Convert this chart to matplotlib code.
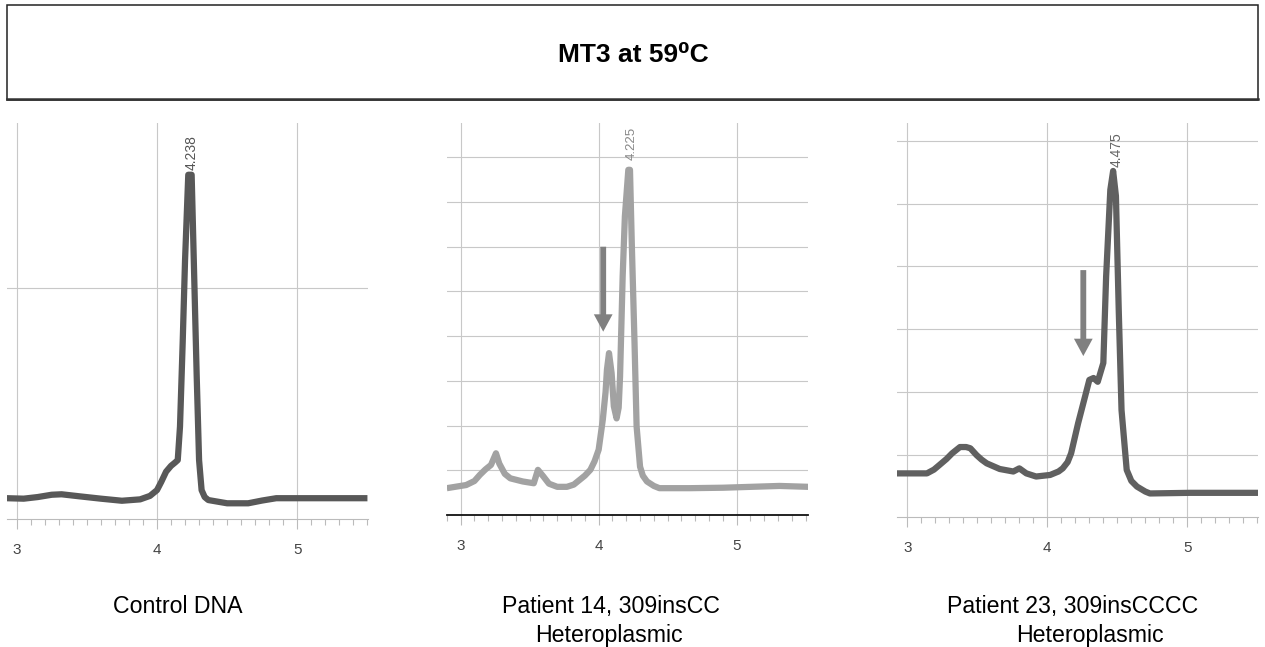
import numpy as np
import matplotlib
matplotlib.use("Agg")
import matplotlib.pyplot as plt
from matplotlib.patches import Rectangle
from matplotlib.lines import Line2D

plt.rcParams['font.family'] = ['Liberation Sans', 'DejaVu Sans']

# --- data ---
title = 'MT3 at 59⁰C'
tick_vals = [3, 4, 5]
tick_labels = ['3', '4', '5']

# Control DNA
x_ctrl = [2.93, 3.05, 3.15, 3.25, 3.32, 3.45, 3.6, 3.75, 3.88, 3.95, 4.0, 4.03, 4.065, 4.10,
          4.13, 4.148, 4.164, 4.183, 4.20, 4.223, 4.247, 4.264, 4.283, 4.30, 4.318, 4.34,
          4.366, 4.5, 4.65, 4.75, 4.85, 5.0, 5.5]
y_ctrl = [0.09, 0.088, 0.095, 0.105, 0.107, 0.098, 0.088, 0.079, 0.085, 0.10, 0.125, 0.16, 0.205,
          0.23, 0.245, 0.255, 0.40, 0.76, 1.12, 1.49, 1.49, 1.08, 0.62, 0.255, 0.125, 0.095,
          0.082, 0.068, 0.068, 0.08, 0.09, 0.09, 0.09]
peak_ctrl = 4.238

# Patient 14, 309insCC
x_p14 = [2.90, 3.04, 3.10, 3.14, 3.18, 3.22, 3.256, 3.28, 3.32, 3.36, 3.45, 3.53, 3.56,
         3.60, 3.64, 3.70, 3.77, 3.82, 3.86, 3.90, 3.94, 3.97, 4.00, 4.03, 4.05, 4.06,
         4.075, 4.094, 4.11, 4.13, 4.145, 4.155, 4.174, 4.19, 4.215, 4.227, 4.24, 4.26,
         4.275, 4.30, 4.32, 4.35, 4.40, 4.44, 4.66, 4.90, 5.31, 5.52]
y_p14 = [0.60, 0.67, 0.76, 0.90, 1.02, 1.12, 1.38, 1.15, 0.92, 0.82, 0.75, 0.71, 1.01,
         0.86, 0.70, 0.63, 0.63, 0.68, 0.78, 0.88, 1.01, 1.20, 1.46, 2.13, 2.75, 3.25,
         3.62, 3.17, 2.43, 2.16, 2.40, 3.10, 5.34, 6.68, 7.72, 7.72, 6.08, 3.84,
         1.98, 1.08, 0.88, 0.75, 0.65, 0.60, 0.60, 0.61, 0.65, 0.63]
peak_p14 = 4.225

# Patient 23, 309insCCCC
x_p23 = [2.924, 3.14, 3.19, 3.23, 3.28, 3.32, 3.376, 3.42, 3.45, 3.495, 3.53, 3.567, 3.66,
         3.757, 3.80, 3.85, 3.92, 4.02, 4.08, 4.11, 4.145, 4.17, 4.22, 4.27, 4.30, 4.33,
         4.36, 4.40, 4.42, 4.45, 4.47, 4.49, 4.51, 4.53, 4.567, 4.60, 4.64, 4.70, 4.733,
         5.02, 5.507]
y_p23 = [0.70, 0.70, 0.76, 0.835, 0.93, 1.02, 1.12, 1.12, 1.10, 0.99, 0.92, 0.86, 0.77,
         0.73, 0.78, 0.70, 0.65, 0.675, 0.73, 0.78, 0.88, 1.02, 1.50, 1.93, 2.19, 2.22,
         2.16, 2.46, 3.84, 5.22, 5.52, 5.12, 3.31, 1.71, 0.755, 0.58, 0.49, 0.41, 0.38,
         0.39, 0.39]
peak_p23 = 4.475

W, H = 1265, 647
fig = plt.figure(figsize=(W / 100, H / 100), dpi=100)


def add_panel(left, top, right, bottom):
    return fig.add_axes([left / W, 1 - bottom / H, (right - left) / W, (bottom - top) / H])


def setup(ax, xlim, ylim, ygrid, spine_color, spine_lw):
    ax.set_xlim(xlim)
    ax.set_ylim(ylim)
    for s in ['left', 'right', 'top']:
        ax.spines[s].set_visible(False)
    ax.spines['bottom'].set_color(spine_color)
    ax.spines['bottom'].set_linewidth(spine_lw)
    ax.set_xticks(tick_vals)
    ax.set_xticklabels(tick_labels)
    minor = [t / 10 for t in range(29, 56) if xlim[0] <= t / 10 <= xlim[1]]
    ax.set_xticks(minor, minor=True)
    ax.set_yticks(ygrid)
    ax.tick_params(axis='y', left=False, labelleft=False)
    ax.tick_params(axis='x', which='major', length=7, color='#bbbbbb', width=0.8,
                   labelsize=11, labelcolor='#444444', pad=10)
    ax.tick_params(axis='x', which='minor', length=4, color='#bbbbbb', width=0.8)
    ax.grid(True, which='major', color='#c8c8c8', lw=0.8)
    ax.set_axisbelow(True)


arrow_style = 'simple,head_width=1.35,head_length=1.25,tail_width=0.42'
line_kw = dict(lw=4.5, solid_joinstyle='round', solid_capstyle='butt')

# panel 1
ax1 = add_panel(7, 123, 368, 519)
setup(ax1, (2.931, 5.504), (0, 1.714), [1], '#bbbbbb', 0.8)
ax1.plot(x_ctrl, y_ctrl, color='#585858', **line_kw)
ax1.text(4.247, 1.51, f'{peak_ctrl:.3f}', rotation=90, ha='center', va='bottom',
         fontsize=10, color='#555555')

# panel 2
ax2 = add_panel(446.7, 123.3, 808.3, 515)
setup(ax2, (2.899, 5.519), (0, 8.76), list(range(1, 9)), '#111111', 1.3)
ax2.plot(x_p14, y_p14, color='#a2a2a2', **line_kw)
ax2.text(4.239, 7.94, f'{peak_p14:.3f}', rotation=90, ha='center', va='bottom',
         fontsize=9.5, color='#888888')
ax2.annotate('', xy=(4.033, 4.10), xytext=(4.033, 6.0),
             arrowprops=dict(arrowstyle=arrow_style, color='#808080', lw=0,
                             shrinkA=0, shrinkB=0, mutation_scale=10))

# panel 3
ax3 = add_panel(896.7, 123.3, 1258.3, 517.3)
setup(ax3, (2.924, 5.507), (0, 6.28), list(range(1, 7)), '#bbbbbb', 0.8)
ax3.plot(x_p23, y_p23, color='#606060', **line_kw)
ax3.text(4.496, 5.59, f'{peak_p23:.3f}', rotation=90, ha='center', va='bottom',
         fontsize=10, color='#666666')
ax3.annotate('', xy=(4.257, 2.57), xytext=(4.257, 3.94),
             arrowprops=dict(arrowstyle=arrow_style, color='#808080', lw=0,
                             shrinkA=0, shrinkB=0, mutation_scale=10))

# title box
fig.add_artist(Rectangle((7 / W, 1 - 100 / H), 1251 / W, 95 / H, transform=fig.transFigure,
                         fill=False, ec='#222222', lw=1.1))
fig.add_artist(Line2D([7 / W, 1258 / W], [1 - 99.3 / H] * 2, transform=fig.transFigure,
                      lw=1.8, color='#333333'))
fig.text(633 / W, 1 - 62.3 / H, title, ha='center', va='baseline', fontsize=19,
         fontweight='bold', color='black')

# captions
fig.text(177.5 / W, 1 - 613.3 / H, 'Control DNA', ha='center', va='baseline', fontsize=16.7)
fig.text(610.8 / W, 1 - 613.3 / H, 'Patient 14, 309insCC', ha='center', va='baseline', fontsize=16.7)
fig.text(609 / W, 1 - 642 / H, 'Heteroplasmic', ha='center', va='baseline', fontsize=16.7)
fig.text(1072.5 / W, 1 - 613.3 / H, 'Patient 23, 309insCCCC', ha='center', va='baseline', fontsize=16.7)
fig.text(1090 / W, 1 - 642 / H, 'Heteroplasmic', ha='center', va='baseline', fontsize=16.7)

fig.savefig('out.png', dpi=100)
